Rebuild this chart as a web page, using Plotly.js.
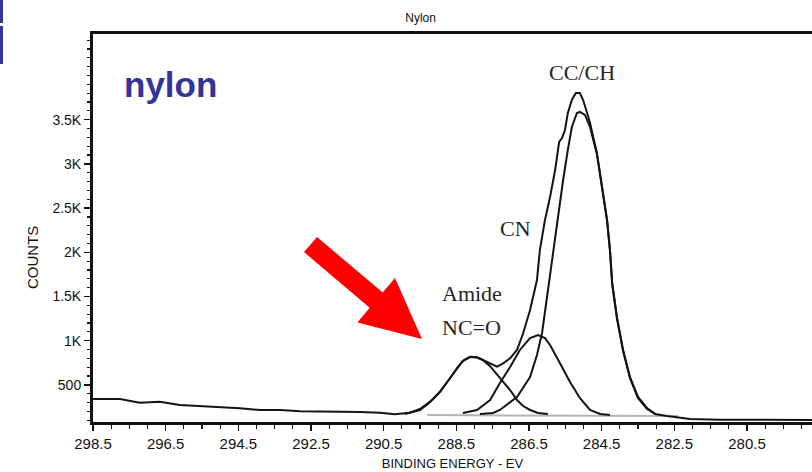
<!DOCTYPE html>
<html>
<head>
<meta charset="utf-8">
<script src="https://cdn.plot.ly/plotly-3.0.1.min.js"></script>
<style>
  html, body { margin: 0; padding: 0; background: #ffffff; overflow: hidden; }
  #chart { width: 812px; height: 472px; }
</style>
</head>
<body>
<div id="chart"></div>
<script>
// ---- Data (binding energy in eV, counts) ----
const envelopeBE = [298.5, 297.76, 297.21, 296.66, 296.11, 295.55, 295.0, 294.45, 293.9, 293.35, 292.8, 292.25, 291.7, 291.15, 290.6, 290.19, 289.78, 289.5, 289.22, 288.95, 288.67, 288.48, 288.32, 288.12, 287.93, 287.77, 287.57, 287.38, 287.21, 287.02, 286.83, 286.66, 286.47, 286.28, 286.2, 286.06, 285.92, 285.78, 285.67, 285.59, 285.51, 285.43, 285.32, 285.21, 285.1, 285.01, 284.9, 284.82, 284.63, 284.49, 284.35, 284.27, 284.21, 284.08, 283.91, 283.72, 283.5, 283.25, 283.03, 282.7, 282.43, 282.07, 281.24, 280.14, 278.71];
const envelopeCounts = [340, 340, 298, 310, 272, 261, 246, 235, 216, 216, 201, 201, 201, 193, 185, 167, 185, 227, 310, 423, 578, 691, 774, 819, 812, 782, 744, 706, 744, 801, 895, 1084, 1347, 1687, 2026, 2366, 2626, 2931, 3248, 3293, 3384, 3576, 3723, 3803, 3803, 3723, 3576, 3463, 3124, 2739, 2366, 2026, 1653, 1268, 895, 589, 363, 238, 171, 148, 137, 114, 106, 104, 103];

const amideBE = [289.91, 289.5, 289.22, 288.95, 288.67, 288.48, 288.32, 288.12, 287.93, 287.77, 287.57, 287.38, 287.21, 287.02, 286.83, 286.66, 286.47, 286.25, 285.98];
const amideCounts = [170, 216, 306, 419, 578, 691, 770, 815, 810, 782, 712, 612, 533, 442, 329, 261, 216, 182, 170];

const cnBE = [288.32, 287.93, 287.57, 287.3, 287.02, 286.75, 286.47, 286.25, 286.06, 285.92, 285.65, 285.37, 285.1, 284.82, 284.54, 284.27];
const cnCounts = [182, 216, 329, 521, 702, 895, 1030, 1064, 1030, 951, 748, 533, 352, 216, 171, 159];

const ccBE = [287.85, 287.49, 287.3, 286.83, 286.47, 286.28, 286.14, 285.98, 285.84, 285.7, 285.56, 285.43, 285.32, 285.18, 285.1, 284.96, 284.82, 284.63, 284.49, 284.35, 284.27, 284.21, 284.08, 283.91, 283.72, 283.5, 283.25, 283.03];
const ccCounts = [170, 182, 216, 363, 589, 838, 1087, 1574, 2026, 2445, 2818, 3158, 3418, 3576, 3588, 3554, 3418, 3110, 2725, 2352, 2012, 1640, 1255, 882, 576, 352, 228, 176];

const baselineBE = [289.3, 288.0, 286.5, 285.0, 284.0, 283.2, 282.4];
const baselineCounts = [158, 156, 155, 153, 152, 150, 148];

const yTickVals = [500, 1000, 1500, 2000, 2500, 3000, 3500];
const yTickText = ['500', '1K', '1.5K', '2K', '2.5K', '3K', '3.5K'];

const peakLabels = ['CC/CH', 'CN', 'Amide', 'NC=O'];
const peakLabelBE = [285.04, 286.88, 288.95, 288.95];
const peakLabelCounts = [4030, 2265, 1530, 1145];

// ---- Styling ----
const lineColor = '#141414';
const lineStyle = { color: lineColor, width: 2, shape: 'linear' };

const traces = [
  { x: baselineBE, y: baselineCounts, mode: 'lines', line: { color: '#b4b4b4', width: 2 }, hoverinfo: 'skip', showlegend: false },
  { x: amideBE, y: amideCounts, mode: 'lines', line: lineStyle, name: 'Amide NC=O', showlegend: false },
  { x: cnBE, y: cnCounts, mode: 'lines', line: lineStyle, name: 'CN', showlegend: false },
  { x: ccBE, y: ccCounts, mode: 'lines', line: lineStyle, name: 'CC/CH', showlegend: false },
  { x: envelopeBE, y: envelopeCounts, mode: 'lines', line: lineStyle, name: 'Nylon', showlegend: false }
];

const serif = '"Liberation Serif", "DejaVu Serif", serif';
const sans = 'Arial, "Liberation Sans", sans-serif';

const annotations = [];
for (let i = 0; i < peakLabels.length; i++) {
  annotations.push({
    x: peakLabelBE[i], y: peakLabelCounts[i], xref: 'x', yref: 'y',
    text: peakLabels[i], showarrow: false,
    xanchor: i >= 2 ? 'left' : 'center', yanchor: 'middle',
    font: { family: serif, size: 22, color: '#262626' }
  });
}
annotations.push({
  x: 296.38, y: 3904, xref: 'x', yref: 'y', text: '<b>nylon</b>', showarrow: false,
  xanchor: 'center', yanchor: 'middle',
  font: { family: sans, size: 35, color: '#333399' }
});
annotations.push({
  x: -0.0834, y: 0.4227, xref: 'paper', yref: 'paper', text: 'COUNTS', showarrow: false,
  textangle: -90, xanchor: 'center', yanchor: 'middle',
  font: { family: sans, size: 15, color: '#111111' }
});

// Red arrow and blue corner bars (pixel offsets relative to plot-area top-left corner)
const arrowPath = 'M224,-203 L289.7,-258.6 L302,-244 L329,-305 L264.4,-288.4 L276.7,-273.8 L211,-218.1 Z';
const shapes = [
  { type: 'path', xref: 'paper', yref: 'paper', xsizemode: 'pixel', ysizemode: 'pixel', xanchor: 0, yanchor: 1,
    path: arrowPath, fillcolor: '#ff0000', line: { width: 0 } },
  { type: 'rect', xref: 'paper', yref: 'paper', xsizemode: 'pixel', ysizemode: 'pixel', xanchor: 0, yanchor: 1,
    x0: -93, x1: -90, y0: 11, y1: 34, fillcolor: '#333399', line: { width: 0 } },
  { type: 'rect', xref: 'paper', yref: 'paper', xsizemode: 'pixel', ysizemode: 'pixel', xanchor: 0, yanchor: 1,
    x0: -93, x1: -90, y0: -30, y1: 8, fillcolor: '#333399', line: { width: 0 } }
];

const layout = {
  width: 812, height: 472,
  margin: { l: 93, r: 0, t: 34, b: 50, pad: 0 },
  paper_bgcolor: '#ffffff', plot_bgcolor: '#ffffff',
  showlegend: false,
  title: { text: 'Nylon', x: 0.518, xref: 'container', y: 0.963, yref: 'container', xanchor: 'center', yanchor: 'middle',
           font: { family: sans, size: 12, color: '#111111' } },
  xaxis: {
    range: [298.5, 278.71], autorange: false,
    tickmode: 'linear', tick0: 298.5, dtick: 2,
    ticks: 'outside', ticklen: 6, tickwidth: 1.5, tickcolor: '#111',
    minor: { tickmode: 'linear', tick0: 298.5, dtick: 0.5, ticks: 'outside', ticklen: 4, tickwidth: 1.2, tickcolor: '#111' },
    showline: true, linecolor: '#111', linewidth: 3, mirror: true,
    showgrid: false, zeroline: false,
    tickfont: { family: sans, size: 15, color: '#111111' },
    title: { text: 'BINDING ENERGY - EV', standoff: 8, font: { family: sans, size: 13, color: '#111111' } }
  },
  yaxis: {
    range: [80, 4470], autorange: false,
    tickmode: 'array', tickvals: yTickVals, ticktext: yTickText,
    ticks: 'outside', ticklen: 6, tickwidth: 1.5, tickcolor: '#111',
    minor: { tickmode: 'linear', tick0: 0, dtick: 100, ticks: 'outside', ticklen: 3, tickwidth: 1.2, tickcolor: '#111' },
    showline: true, linecolor: '#111', linewidth: 3, mirror: false,
    showgrid: false, zeroline: false,
    tickfont: { family: sans, size: 14, color: '#111111' }
  },
  annotations: annotations,
  shapes: shapes
};

Plotly.newPlot('chart', traces, layout, { displayModeBar: false, staticPlot: true });
</script>
</body>
</html>
